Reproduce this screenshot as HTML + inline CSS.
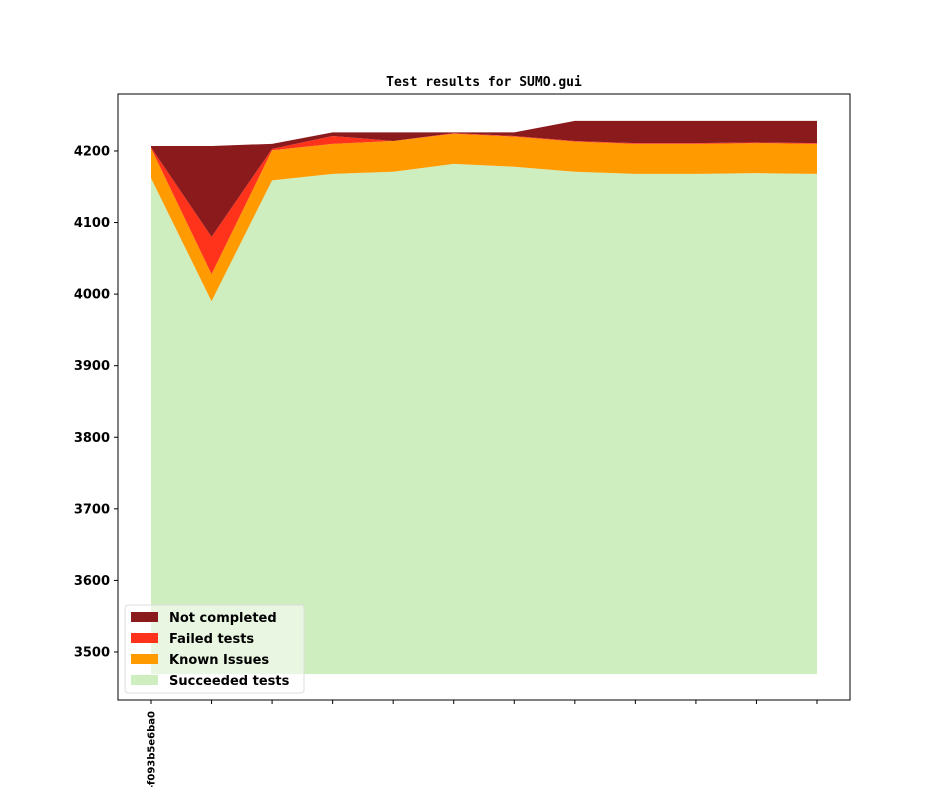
<!DOCTYPE html>
<html><head><meta charset="utf-8"><style>
body{margin:0;background:#fff;}
svg text{font-family:"DejaVu Sans","Liberation Sans",sans-serif;font-weight:bold;}
</style></head><body>
<svg id="chart" width="944" height="787" xmlns="http://www.w3.org/2000/svg">
<rect x="0" y="0" width="944" height="787" fill="#fff"/>
<text x="484" y="86" text-anchor="middle" font-size="13" style="font-family:'DejaVu Sans Mono','Liberation Mono',monospace">Test results for SUMO.gui</text>
<g id="series"></g>
<g id="axes"></g>
<g id="legend"></g>
</svg>
<script>
const categories = ["-f093b5e6ba0","","","","","","","","","","",""];
const succeeded = [4162,3990,4159,4168,4171,4182,4178,4171,4168,4168,4169,4168];
const knownIssues = [42,38,42,42,43,42,42,42,42,42,42,42];
const failed = [1,52,2,11,0,1,1,1,1,1,1,1];
const notCompleted = [2,127,7,5,12,1,5,28,31,31,30,31];
const yTicks = [3500,3600,3700,3800,3900,4000,4100,4200];
const baseline = 3469;

const L=118,R=850,T=94,B=700;
const yMin=3432.9,yMax=4279.6;
const xMin=-0.545,xMax=11.545;
const xs=i=>L+(i-xMin)/(xMax-xMin)*(R-L);
const ys=v=>B-(v-yMin)/(yMax-yMin)*(B-T);
const NS="http://www.w3.org/2000/svg";
function mk(tag,attrs,parent){const e=document.createElementNS(NS,tag);for(const k in attrs)e.setAttribute(k,attrs[k]);parent.appendChild(e);return e;}

const series=[
 {name:"succeeded-area",vals:succeeded,color:"#cfeebf",label:"Succeeded tests"},
 {name:"known-issues-area",vals:knownIssues,color:"#ff9a00",label:"Known Issues"},
 {name:"failed-area",vals:failed,color:"#ff331c",label:"Failed tests"},
 {name:"not-completed-area",vals:notCompleted,color:"#8b1a1c",label:"Not completed"}
];
const g=document.getElementById('series');
let lower=succeeded.map(()=>baseline);
series.forEach((s,si)=>{
  const upper=s.vals.map((v,i)=>si===0?v:lower[i]+v);
  let d="";
  upper.forEach((v,i)=>{d+=(i?"L":"M")+xs(i)+","+ys(v);});
  for(let i=lower.length-1;i>=0;i--)d+="L"+xs(i)+","+ys(lower[i]);
  d+="Z";
  const p=mk('path',{d:d,fill:s.color},g);
  
  
  lower=upper;
});

const ax=document.getElementById('axes');
const frame=mk('rect',{x:L,y:T,width:R-L,height:B-T,fill:"none",stroke:"#000","stroke-width":1},ax);


yTicks.forEach(t=>{
  const y=ys(t);
  const tk=mk('line',{x1:L-4,x2:L,y1:y,y2:y,stroke:"#000"},ax);
  
  
  const tx=mk('text',{x:L-8,y:y+4.5,"text-anchor":"end","font-size":13},ax);
  tx.textContent=t;
  
  
});
categories.forEach((c,i)=>{
  const x=xs(i);
  const tk=mk('line',{x1:x,x2:x,y1:B,y2:B+4,stroke:"#000"},ax);
  
  
  if(c){
    const tx=mk('text',{x:0,y:0,"text-anchor":"end","font-size":10,transform:`translate(${x+3.5},${B+11}) rotate(-90)`},ax);
    tx.textContent=c;
    
    
  }
});

const lg=document.getElementById('legend');
const box=mk('rect',{x:125,y:605,width:179,height:88,rx:3,fill:"rgba(255,255,255,0.55)",stroke:"#ddd"},lg);


[...series].reverse().forEach((s,i)=>{
  const y=617+i*21;
  const sw=mk('rect',{x:131,y:y-5,width:27,height:10,fill:s.color},lg);
  
  
  const tx=mk('text',{x:169,y:y+5,"font-size":13},lg);
  tx.textContent=s.label;
  
  
});
</script>
</body></html>
